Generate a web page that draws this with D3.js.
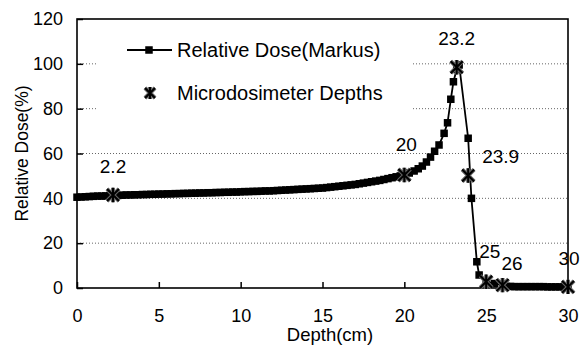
<!DOCTYPE html>
<html>
<head>
<meta charset="utf-8">
<script src="https://cdn.jsdelivr.net/npm/d3@7"></script>
<style>
  body { margin: 0; background: #fff; }
  svg { font-family: "Liberation Sans", Arial, sans-serif; }
</style>
</head>
<body>
<div id="chart"></div>
<script>
var svgWidth = 580;
var svgHeight = 349;

var margin = { top: 19, right: 12, bottom: 61, left: 77 };
var width = svgWidth - margin.left - margin.right;
var height = svgHeight - margin.top - margin.bottom;

// Relative dose (Markus chamber) depth-dose curve
var doseDepth = [
  0, 0.25, 0.5, 0.75, 1, 1.25, 1.5, 1.75, 2, 2.25, 2.5, 2.75, 3, 3.25, 3.5, 3.75,
  4, 4.25, 4.5, 4.75, 5, 5.25, 5.5, 5.75, 6, 6.25, 6.5, 6.75, 7, 7.25, 7.5, 7.75,
  8, 8.25, 8.5, 8.75, 9, 9.25, 9.5, 9.75, 10, 10.25, 10.5, 10.75, 11, 11.25, 11.5, 11.75,
  12, 12.25, 12.5, 12.75, 13, 13.25, 13.5, 13.75, 14, 14.25, 14.5, 14.75, 15, 15.25, 15.5, 15.75,
  16, 16.25, 16.5, 16.75, 17, 17.25, 17.5, 17.75, 18, 18.25, 18.5, 18.75, 19, 19.25, 19.5, 19.75,
  20, 20.3, 20.6, 20.85, 21.1, 21.35, 21.6, 21.85, 22.12, 22.43, 22.64, 22.84, 23.0, 23.2, 23.35,
  23.9, 24.1, 24.43, 24.57, 25, 25.5, 26,
  26.25, 26.5, 26.75, 27, 27.25, 27.5, 27.75, 28, 28.25, 28.5, 28.75, 29, 29.25, 29.5, 29.75, 30
];
var doseValue = [
  40.5, 40.6, 40.7, 40.8, 40.9, 41.0, 41.0, 41.1, 41.2, 41.3, 41.3, 41.4, 41.5, 41.5, 41.6, 41.6,
  41.7, 41.7, 41.8, 41.8, 41.9, 41.9, 42.0, 42.0, 42.1, 42.1, 42.2, 42.2, 42.3, 42.3, 42.4, 42.4,
  42.5, 42.5, 42.6, 42.6, 42.7, 42.7, 42.8, 42.8, 42.9, 43.0, 43.0, 43.1, 43.1, 43.2, 43.3, 43.3,
  43.4, 43.5, 43.6, 43.7, 43.8, 43.9, 44.0, 44.1, 44.2, 44.3, 44.4, 44.5, 44.6, 44.8, 45.0, 45.2,
  45.4, 45.6, 45.8, 46.0, 46.2, 46.5, 46.8, 47.1, 47.4, 47.7, 48.0, 48.4, 48.8, 49.2, 49.6, 50.0,
  50.5, 51.3, 52.2, 53.2, 54.4, 56.2, 58.4, 61.0, 63.8, 69.0, 73.7, 84.2, 92.0, 97.5, 99.5,
  66.8, 40.0, 11.7, 5.8, 3.0, 2.0, 1.3,
  0.7, 0.7, 0.6, 0.6, 0.6, 0.6, 0.6, 0.6, 0.6, 0.6, 0.5, 0.5, 0.5, 0.5, 0.5, 0.5
];

// Microdosimeter measurement depths
var microDepth = [2.2, 20, 23.2, 23.9, 25, 26, 30];
var microValue = [41.5, 50.4, 98.5, 50.2, 2.8, 1.3, 0.5];
var microLabel = ["2.2", "20", "23.2", "23.9", "25", "26", "30"];

var xTicks = [0, 5, 10, 15, 20, 25, 30];
var yTicks = [0, 20, 40, 60, 80, 100, 120];

var svg = d3.select("#chart")
  .append("svg")
  .attr("width", svgWidth)
  .attr("height", svgHeight);

var chartGroup = svg.append("g")
  .attr("transform", `translate(${margin.left}, ${margin.top})`);

var xScale = d3.scaleLinear().domain([0, 30]).range([0, width]);
var yScale = d3.scaleLinear().domain([0, 120]).range([height, 0]);

// dotted gridlines
chartGroup.append("g")
  .selectAll("line")
  .data(yTicks.filter(d => d > 0 && d < 120))
  .enter()
  .append("line")
  .attr("x1", 0)
  .attr("x2", width)
  .attr("y1", d => yScale(d))
  .attr("y2", d => yScale(d))
  .attr("stroke", "#666")
  .attr("stroke-width", 1)
  .attr("stroke-dasharray", "1,2");

// legend background hides gridlines
var legend = chartGroup.append("g");
legend.append("rect")
  .attr("x", 20)
  .attr("y", 10)
  .attr("width", 316)
  .attr("height", 96)
  .attr("fill", "#fff");

// axes (ticks inward)
var bottomAxis = d3.axisBottom(xScale).tickValues(xTicks).tickSizeInner(-6).tickSizeOuter(0).tickPadding(21);
var leftAxis = d3.axisLeft(yScale).tickValues(yTicks).tickSizeInner(-6).tickSizeOuter(0).tickPadding(14);

var xAxis = chartGroup.append("g")
  .attr("transform", `translate(0, ${height})`)
  .call(bottomAxis);
var yAxis = chartGroup.append("g").call(leftAxis);

[xAxis, yAxis].forEach(ax => {
  ax.select(".domain").remove();
  ax.selectAll(".tick line").attr("stroke", "#000").attr("stroke-width", 1.5);
  ax.selectAll(".tick text")
    .attr("font-size", 18)
    .attr("font-family", "'Liberation Sans', Arial, sans-serif")
    .attr("fill", "#000");
});

// frame
chartGroup.append("rect")
  .attr("x", 0)
  .attr("y", 0)
  .attr("width", width)
  .attr("height", height)
  .attr("fill", "none")
  .attr("stroke", "#000")
  .attr("stroke-width", 1.6);

// dose curve
var doseData = doseDepth.map((d, i) => ({ x: d, y: doseValue[i] }));
var line = d3.line().x(d => xScale(d.x)).y(d => yScale(d.y));

chartGroup.append("path")
  .datum(doseData)
  .attr("d", line)
  .attr("fill", "none")
  .attr("stroke", "#000")
  .attr("stroke-width", 1.8);

var markerSize = 7.5;
chartGroup.append("g")
  .selectAll("rect")
  .data(doseData)
  .enter()
  .append("rect")
  .attr("x", d => xScale(d.x) - markerSize / 2)
  .attr("y", d => yScale(d.y) - markerSize / 2)
  .attr("width", markerSize)
  .attr("height", markerSize)
  .attr("fill", "#000");

// asterisk marker
function star(g, cx, cy, r) {
  var s = g.append("g").attr("transform", `translate(${cx}, ${cy})`);
  var d = `M${-r},${-r}L${r},${r}M${-r},${r}L${r},${-r}M0,${-r * 1.2}L0,${r * 1.2}`;
  s.append("path").attr("d", d).attr("stroke", "#666").attr("stroke-width", 4);
  s.append("path").attr("d", d).attr("stroke", "#000").attr("stroke-width", 2);
}

var starGroup = chartGroup.append("g");
microDepth.forEach((d, i) => star(starGroup, xScale(d), yScale(microValue[i]), 6));

// labels next to microdosimeter points: [dx, dy] offsets from the point
var labelOffset = [[0, -22], [2, -24], [0, -22], [14, -12], [-7, -24], [-1, -15], [1, -22]];
var labelAnchor = ["middle", "middle", "middle", "start", "start", "start", "middle"];
chartGroup.append("g")
  .selectAll("text")
  .data(microLabel)
  .enter()
  .append("text")
  .attr("x", (d, i) => xScale(microDepth[i]) + labelOffset[i][0])
  .attr("y", (d, i) => yScale(microValue[i]) + labelOffset[i][1])
  .attr("text-anchor", (d, i) => labelAnchor[i])
  .attr("font-size", 19)
  .text(d => d);

// legend entries
legend.append("line")
  .attr("x1", 50).attr("x2", 95)
  .attr("y1", 31).attr("y2", 31)
  .attr("stroke", "#000").attr("stroke-width", 1.8);
legend.append("rect")
  .attr("x", 72 - markerSize / 2).attr("y", 31 - markerSize / 2)
  .attr("width", markerSize).attr("height", markerSize)
  .attr("fill", "#000");
legend.append("text")
  .attr("x", 100).attr("y", 38)
  .attr("font-size", 20)
  .text("Relative Dose(Markus)");

star(legend, 73, 74, 5);
legend.append("text")
  .attr("x", 100).attr("y", 81)
  .attr("font-size", 20)
  .text("Microdosimeter Depths");

// axis titles
svg.append("text")
  .attr("x", 330)
  .attr("y", 341)
  .attr("text-anchor", "middle")
  .attr("font-size", 18.5)
  .text("Depth(cm)");

svg.append("text")
  .attr("transform", `translate(28, ${margin.top + height / 2}) rotate(-90)`)
  .attr("text-anchor", "middle")
  .attr("font-size", 17.5)
  .text("Relative Dose(%)");
</script>
</body>
</html>
